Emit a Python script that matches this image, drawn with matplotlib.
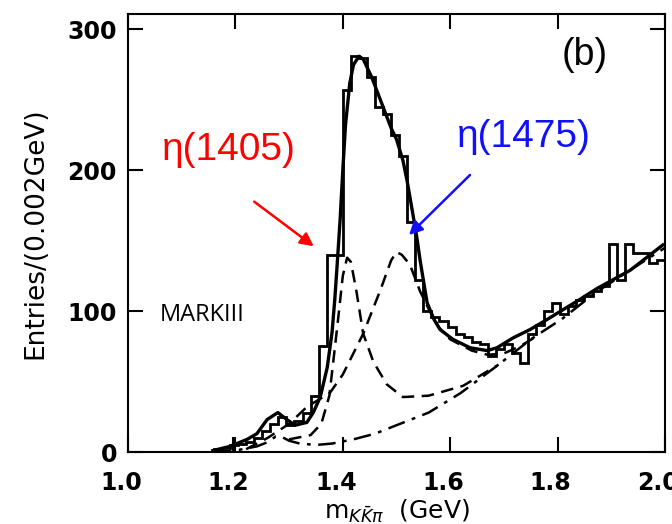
import numpy as np
import matplotlib
matplotlib.use("Agg")
import matplotlib.pyplot as plt
from matplotlib.transforms import ScaledTranslation

# histogram: lower bin edges every 0.015 GeV from 1.16
bin_width = 0.015
bin_start = 1.16
hist_counts = [2, 3, 5, 6, 7, 10, 15, 20, 25, 19, 22, 28,
               40, 75, 140, 140, 257, 281, 280, 266, 245, 240, 225, 210,
               163, 122, 100, 96, 93, 89, 84, 82, 78, 77, 68, 73,
               77, 70, 63, 84, 90, 100, 106, 98, 104, 108, 111, 114,
               118, 148, 122, 148, 141, 141, 134, 136]

# total fit (solid)
fit_m = [1.158, 1.19, 1.222, 1.24, 1.259, 1.279, 1.296, 1.311, 1.333, 1.345,
         1.358, 1.371, 1.38, 1.385, 1.389, 1.395, 1.40, 1.405, 1.413, 1.42,
         1.43, 1.438, 1.454, 1.475, 1.49, 1.50, 1.512, 1.52, 1.53, 1.538,
         1.544, 1.557, 1.57, 1.581, 1.605, 1.637, 1.669, 1.687, 1.717, 1.749,
         1.78, 1.81, 1.84, 1.873, 1.935, 1.996]
fit_v = [1, 4, 9, 13, 23, 28, 23, 19, 21, 28,
         39, 60, 85, 108, 130, 165, 200, 232, 262, 275,
         281, 279, 266, 245, 230, 222, 207, 192, 170, 152,
         136, 106, 94, 87, 80, 74, 72, 74, 81, 87,
         94, 101, 108, 116, 129, 147]

# eta(1405) + background (dashed)
e1405_m = [1.30, 1.34, 1.36, 1.375, 1.39, 1.40, 1.408, 1.415, 1.425, 1.438,
           1.457, 1.482, 1.512, 1.56, 1.624, 1.69]
e1405_v = [9, 12, 20, 40, 90, 125, 138, 135, 115, 84,
           64, 48, 39, 40, 47, 62]

# eta(1475) + background (dashed)
e1475_m = [1.22, 1.26, 1.30, 1.333, 1.376, 1.40, 1.438, 1.47, 1.49, 1.50,
           1.51, 1.525, 1.544, 1.562, 1.58, 1.60, 1.64, 1.67, 1.70, 1.73, 1.76]
e1475_v = [2, 10, 20, 32, 42, 55, 84, 115, 136, 142,
           140, 133, 114, 100, 88, 80, 72, 69, 70, 75, 82]

# background (dash-dot)
bkg_m = [1.16, 1.20, 1.24, 1.26, 1.275, 1.285, 1.30, 1.32, 1.35, 1.38,
         1.42, 1.46, 1.50, 1.56, 1.62, 1.69, 1.75, 1.81, 1.87, 1.93, 2.0]
bkg_v = [0, 1, 4, 7, 11, 11, 8, 6, 5, 6,
         9, 13, 19, 28, 42, 62, 80, 95, 113, 128, 145]

edges = bin_start + bin_width * np.arange(len(hist_counts) + 1)

fig = plt.figure(figsize=(6.72, 5.24), dpi=100)
ax = fig.add_axes([128 / 672, (524 - 452) / 524, 537 / 672, 438 / 524])

ax.stairs(hist_counts, edges, color="black", lw=2.0)
ax.plot(fit_m, fit_v, color="black", lw=2.4)
ax.plot(e1405_m, e1405_v, color="black", lw=1.8, ls=(0, (5, 3)))
ax.plot(e1475_m, e1475_v, color="black", lw=1.8, ls=(0, (5, 3)))
ax.plot(bkg_m, bkg_v, color="black", lw=1.8, ls=(0, (7, 3, 1.5, 3)))
ax.errorbar([1.196], [6], yerr=[5], color="black", lw=1.5, fmt="none")

ax.set_xlim(1.0, 2.0)
ax.set_ylim(0, 311)
ax.set_xticks([1.0, 1.2, 1.4, 1.6, 1.8, 2.0])
ax.set_xticklabels(["1.0", "1.2", "1.4", "1.6", "1.8", "2.0"])
ax.set_yticks([0, 100, 200, 300])
ax.tick_params(direction="in", length=11, width=1.5, top=True, right=True,
               labelsize=17)
ax.tick_params(axis="x", pad=14)
ax.tick_params(axis="y", pad=8)
for lab in ax.get_xticklabels() + ax.get_yticklabels():
    lab.set_fontweight("bold")
# x tick labels sit slightly left of their ticks in the scan
shift = ScaledTranslation(-0.07, 0, fig.dpi_scale_trans)
for lab in ax.get_xticklabels():
    lab.set_transform(lab.get_transform() + shift)
for sp in ax.spines.values():
    sp.set_linewidth(1.5)

ax.set_ylabel("Entries/(0.002GeV)", fontsize=19, labelpad=14)
ax.set_xlabel(r"$\mathrm{m}_{K\bar{K}\pi}$  (GeV)", fontsize=18, labelpad=2)

fig.text(585 / 672, 1 - 55 / 524, "(b)", fontsize=27, family="Liberation Sans",
         ha="center", va="center")
fig.text(162 / 672, 1 - 150 / 524, "η(1405)", color="red", fontsize=28,
         family="Liberation Sans", ha="left", va="center")
fig.text(457 / 672, 1 - 137 / 524, "η(1475)", color="#1010ff", fontsize=28,
         family="Liberation Sans", ha="left", va="center")
fig.text(160 / 672, 1 - 315 / 524, "MARKIII", fontsize=17,
         family="Open Sans", ha="left", va="center")

ax.annotate("", xy=(316 / 672, 1 - 248 / 524), xytext=(252 / 672, 1 - 200 / 524),
            xycoords="figure fraction", textcoords="figure fraction",
            arrowprops=dict(arrowstyle="-|>", color="red", lw=1.8, mutation_scale=20))
ax.annotate("", xy=(407 / 672, 1 - 237 / 524), xytext=(472 / 672, 1 - 173 / 524),
            xycoords="figure fraction", textcoords="figure fraction",
            arrowprops=dict(arrowstyle="-|>", color="#1010ff", lw=1.8, mutation_scale=20))

fig.savefig("out.png", dpi=100)
